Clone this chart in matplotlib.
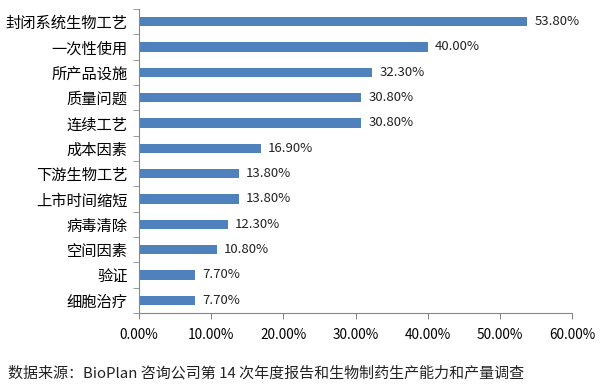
import matplotlib.pyplot as plt
from matplotlib.ticker import FuncFormatter

plt.rcParams['font.family'] = ['Noto Sans CJK SC', 'DejaVu Sans']

categories = ["封闭系统生物工艺", "一次性使用", "所产品设施", "质量问题", "连续工艺",
              "成本因素", "下游生物工艺", "上市时间缩短", "病毒清除", "空间因素",
              "验证", "细胞治疗"]
values = [53.8, 40.0, 32.3, 30.8, 30.8, 16.9, 13.8, 13.8, 12.3, 10.8, 7.7, 7.7]
source = "数据来源：BioPlan 咨询公司第 14 次年度报告和生物制药生产能力和产量调查"

fig = plt.figure(figsize=(6.05, 3.91), dpi=100)
ax = fig.add_axes([0.2298, 0.1995, 0.9455 - 0.2298, 0.977 - 0.1995])

y = list(range(len(categories)))[::-1]
ax.barh(y, values, height=0.38, color="#4F81BD")
for yi, v in zip(y, values):
    ax.text(v + 1.0, yi, f"{v:.2f}%", va="center", ha="left", fontsize=9.5, color="#222222")

ax.set_xlim(0, 60)
ax.set_ylim(-0.5, len(categories) - 0.5)
ax.set_xticks(range(0, 61, 10))
ax.xaxis.set_major_formatter(FuncFormatter(lambda x, p: f"{x:.2f}%"))
ax.set_yticks(y)
ax.set_yticklabels(categories, fontsize=11)
ax.set_yticks([i + 0.5 for i in range(-1, len(categories))], minor=True)
ax.tick_params(axis="y", which="major", length=0, pad=8)
ax.tick_params(axis="y", which="minor", length=4, color="#888888")
ax.tick_params(axis="x", length=4, color="#888888", labelsize=9.8, pad=7)

for s in ["top", "right"]:
    ax.spines[s].set_visible(False)
for s in ["left", "bottom"]:
    ax.spines[s].set_color("#888888")

fig.text(0.013, 0.045, source, fontsize=10.8, ha="left", va="center", color="#222222")

fig.savefig("out.png", dpi=100)
